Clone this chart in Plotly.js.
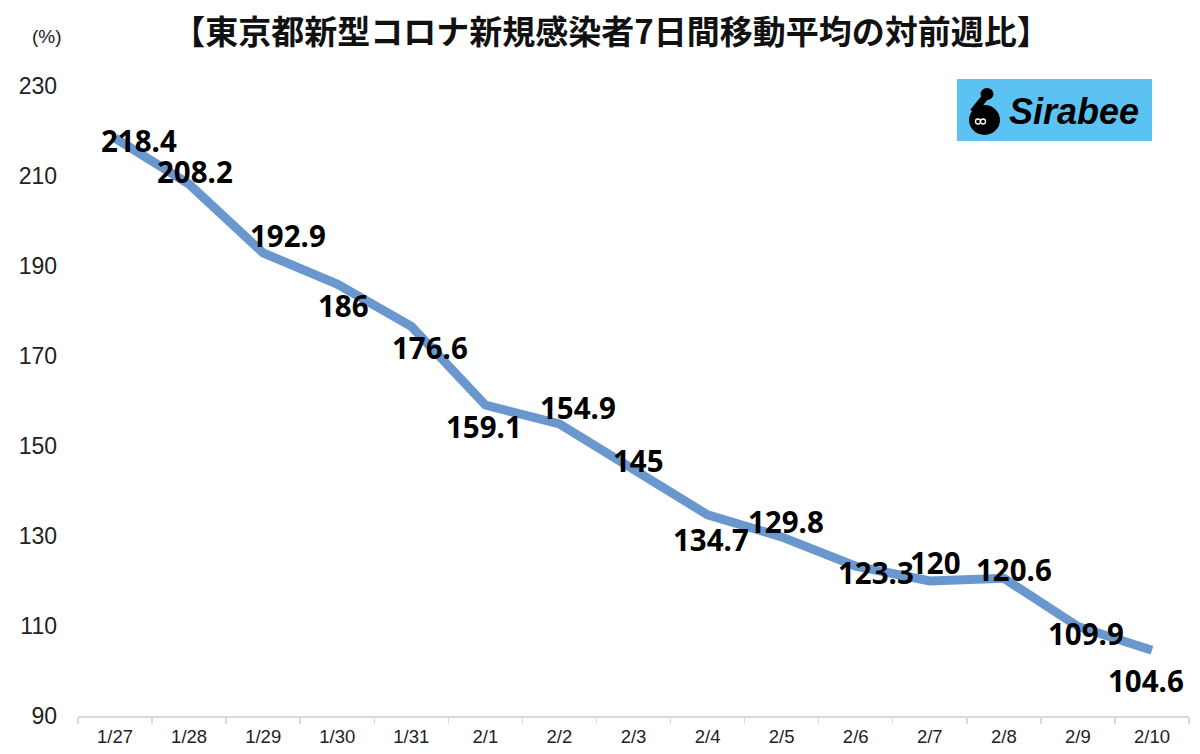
<!DOCTYPE html>
<html>
<head>
<meta charset="utf-8">
<script src="https://cdn.plot.ly/plotly-3.0.1.min.js"></script>
<style>html,body{margin:0;padding:0;background:#fff;}#chart{width:1200px;height:754px;}</style>
</head>
<body>
<div id="chart"></div>
<script>
// ---- data ----
const categories = ["1/27","1/28","1/29","1/30","1/31","2/1","2/2","2/3","2/4","2/5","2/6","2/7","2/8","2/9","2/10"];
const values = [218.4, 208.2, 192.9, 186, 176.6, 159.1, 154.9, 145, 134.7, 129.8, 123.3, 120, 120.6, 109.9, 104.6];
const yTickValues = [90, 110, 130, 150, 170, 190, 210, 230];
const titleText = "【東京都新型コロナ新規感染者7日間移動平均の対前週比】";
const unitText = "(%)";
const logoText = "Sirabee";

// ---- label offsets (pixels, dx right, dy down) ----
const labelDx = [24, 6, 25, 6, 19, -1, 19, 5, 3, 4, 20, 6, 10, 8, -6];
const labelDy = [2, -13, -17, 21, 21, 21, -16, -8, 25, -15, 6, -19, -9, 7, 30];

const trace = {
  type: "scatter",
  mode: "lines",
  x: categories,
  y: values,
  line: {color: "#6b97cf", width: 9},
  hoverinfo: "x+y"
};

const labelFont = {family: "Noto Sans, Liberation Sans, sans-serif", size: 29.5, color: "#000", weight: 700};
const annotations = values.map((v, i) => ({
  x: categories[i], y: v, xref: "x", yref: "y",
  text: String(v), showarrow: false,
  xanchor: "center", yanchor: "middle",
  xshift: labelDx[i], yshift: -labelDy[i],
  borderpad: 0,
  font: labelFont
}));

// plot area in pixels: x 78..1189, y 86..716
annotations.push({
  xref: "paper", yref: "paper", x: (47 - 78) / 1111, y: (716 - 36) / 630,
  text: unitText, showarrow: false, xanchor: "center", yanchor: "middle",
  font: {family: "Liberation Sans, sans-serif", size: 19, color: "#222"}
});
annotations.push({
  xref: "paper", yref: "paper", x: (1074 - 78) / 1111, y: (716 - 112) / 630,
  text: "<i>" + logoText + "</i>", showarrow: false, xanchor: "center", yanchor: "middle",
  font: {family: "Liberation Sans, sans-serif", size: 36, color: "#000", weight: 700}
});

function pxShape(type, x0, y0, x1, y1, extra) {
  // pixel coords in page, converted to offsets from paper top-right corner
  return Object.assign({
    type: type, xref: "paper", yref: "paper",
    xsizemode: "pixel", ysizemode: "pixel", xanchor: 1, yanchor: 1,
    x0: x0 - 1189, x1: x1 - 1189, y0: 86 - y0, y1: 86 - y1,
    layer: "above"
  }, extra);
}

const shapes = [
  pxShape("rect", 957, 79, 1152, 141, {fillcolor: "#5bc2f1", line: {width: 0}}),
  pxShape("line", 986, 96, 973, 112, {line: {color: "#000", width: 7}}),
  pxShape("circle", 969, 105, 1000, 135, {fillcolor: "#000", line: {width: 0}}),
  pxShape("circle", 980.5, 88, 993.5, 100, {fillcolor: "#000", line: {width: 0}}),
  pxShape("circle", 975.5, 119, 980.5, 124, {line: {color: "#fff", width: 1.3}}),
  pxShape("circle", 980.5, 119, 985.5, 124, {line: {color: "#fff", width: 1.3}})
];

const layout = {
  width: 1200, height: 754,
  margin: {l: 78, r: 11, t: 86, b: 38},
  paper_bgcolor: "#fff", plot_bgcolor: "#fff",
  showlegend: false,
  title: {
    text: titleText,
    x: 611 / 1200, xanchor: "center",
    yref: "container", y: 1 - 32 / 754, yanchor: "middle",
    font: {family: "Noto Sans CJK JP, sans-serif", size: 33, color: "#111", weight: 700}
  },
  xaxis: {
    type: "category",
    range: [-0.5, categories.length - 0.5],
    showline: true, linecolor: "#d9d9d9", linewidth: 2,
    ticks: "outside", tickson: "boundaries", ticklen: 6, tickcolor: "#d9d9d9", tickwidth: 1.5,
    showgrid: false, zeroline: false,
    tickfont: {family: "Liberation Sans, sans-serif", size: 18.5, color: "#222"},
    ticklabelstandoff: 3,
    fixedrange: true
  },
  yaxis: {
    range: [90, 230],
    tickvals: yTickValues,
    ticktext: yTickValues.map(String),
    showline: false, showgrid: false, zeroline: false, ticks: "",
    tickfont: {family: "Liberation Sans, sans-serif", size: 23, color: "#222"},
    ticklabelstandoff: 20,
    fixedrange: true
  },
  annotations: annotations,
  shapes: shapes
};

Plotly.newPlot("chart", [trace], layout, {displayModeBar: false, staticPlot: true});
</script>
</body>
</html>
